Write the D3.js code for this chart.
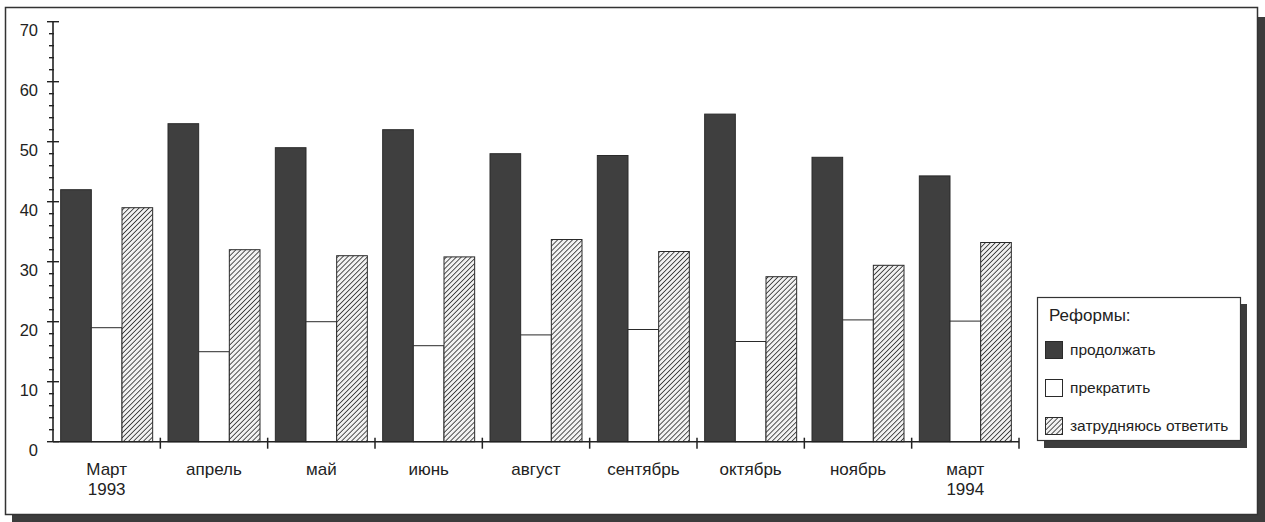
<!DOCTYPE html>
<html><head><meta charset="utf-8">
<script src="https://cdn.jsdelivr.net/npm/d3@7/dist/d3.min.js"></script>
<style>body{margin:0;background:#fff}svg{display:block}text{font-family:"Liberation Sans",Arial,sans-serif;fill:#222}</style>
</head><body><svg id="c" width="1265" height="522"></svg>
<script>
const categories = [["Март","1993"],["апрель"],["май"],["июнь"],["август"],["сентябрь"],["октябрь"],["ноябрь"],["март","1994"]];
const seriesNames = ["продолжать","прекратить","затрудняюсь ответить"];
const continueVals = [42, 53, 49, 52, 48, 47.7, 54.6, 47.4, 44.3];
const stopVals     = [19, 15, 20, 16, 17.8, 18.7, 16.7, 20.3, 20.1];
const unsureVals   = [39, 32, 31, 30.8, 33.7, 31.7, 27.5, 29.4, 33.2];
const yTicks = [0,10,20,30,40,50,60,70];
const legendTitle = "Реформы:";

const svg = d3.select("#c");
const defs = svg.append("defs");
const pat = defs.append("pattern").attr("id","hatch").attr("patternUnits","userSpaceOnUse")
  .attr("width",3.5).attr("height",3.5).attr("patternTransform","rotate(45)");
pat.append("rect").attr("width",3.5).attr("height",3.5).attr("fill","#f2f2f2");
pat.append("line").attr("x1",0).attr("y1",0).attr("x2",0).attr("y2",3.5).attr("stroke","#2a2a2a").attr("stroke-width",1.6);

const fills = ["#3f3f3f","#ffffff","url(#hatch)"];

// frame with shadow
svg.append("rect").attr("x",12).attr("y",17).attr("width",1253).attr("height",505).attr("fill","#3c3c3c");
svg.append("rect").attr("x",5.5).attr("y",7.5).attr("width",1252).attr("height",507).attr("fill","#fff").attr("stroke","#333").attr("stroke-width",1.5);

const x0 = d3.scaleBand().domain(d3.range(categories.length)).range([53,1019]).padding(0);
const x1 = d3.scaleBand().domain(d3.range(3)).range([0,x0.bandwidth()]).paddingInner(0).paddingOuter(0.25);
const y = d3.scaleLinear().domain([0,70]).range([441.7,21.7]);

const data = categories.map((c,i)=>[continueVals[i],stopVals[i],unsureVals[i]]);
const g = svg.append("g");
data.forEach((vals,i)=>{
  vals.forEach((v,j)=>{
    g.append("rect").attr("x",x0(i)+x1(j)).attr("y",y(v)).attr("width",x1.bandwidth()).attr("height",y(0)-y(v))
     .attr("fill",fills[j]).attr("stroke","#2a2a2a").attr("stroke-width",1);
  });
});

// y axis
const ya = svg.append("g");
ya.append("line").attr("x1",53).attr("x2",53).attr("y1",y(70)).attr("y2",y(0)).attr("stroke","#222").attr("stroke-width",1.6);
d3.range(0,71,2).forEach(v=>{
  const major = v%10===0;
  ya.append("line").attr("x1",major?47:49).attr("x2",major?59:54).attr("y1",y(v)).attr("y2",y(v)).attr("stroke","#222").attr("stroke-width",1.4);
});
yTicks.forEach(v=>{
  ya.append("text").attr("x",38).attr("y",y(v)+14).attr("text-anchor","end").attr("font-size",16.5).text(v);
});

// x axis
const xa = svg.append("g");
xa.append("line").attr("x1",53).attr("x2",1019).attr("y1",y(0)).attr("y2",y(0)).attr("stroke","#222").attr("stroke-width",1.6);
d3.range(1,categories.length+1).forEach(i=>{
  const xx = i<categories.length ? x0(i) : x0.range()[1];
  xa.append("line").attr("x1",xx).attr("x2",xx).attr("y1",y(0)-4).attr("y2",y(0)+7).attr("stroke","#222").attr("stroke-width",1.5);
});
categories.forEach((c,i)=>{
  const t = xa.append("text").attr("x",x0(i)+x0.bandwidth()/2).attr("y",475).attr("text-anchor","middle").attr("font-size",17);
  c.forEach((line,k)=> t.append("tspan").attr("x",x0(i)+x0.bandwidth()/2).attr("dy",k?20:0).text(line));
});

// legend
const lg = svg.append("g");
lg.append("rect").attr("x",1044).attr("y",304).attr("width",203).attr("height",144).attr("fill","#3c3c3c");
lg.append("rect").attr("x",1037.5).attr("y",297.5).attr("width",203).attr("height",143).attr("fill","#fff").attr("stroke","#333").attr("stroke-width",1.2);
lg.append("text").attr("x",1049).attr("y",321).attr("font-size",17).text(legendTitle);
const ly = [350,388,426];
seriesNames.forEach((s,j)=>{
  lg.append("rect").attr("x",1045.5).attr("y",ly[j]-8.5).attr("width",17).attr("height",17).attr("fill",fills[j]).attr("stroke","#2a2a2a").attr("stroke-width",1);
  lg.append("text").attr("x",1070).attr("y",ly[j]+5).attr("font-size",15.5).text(s);
});
</script></body></html>
